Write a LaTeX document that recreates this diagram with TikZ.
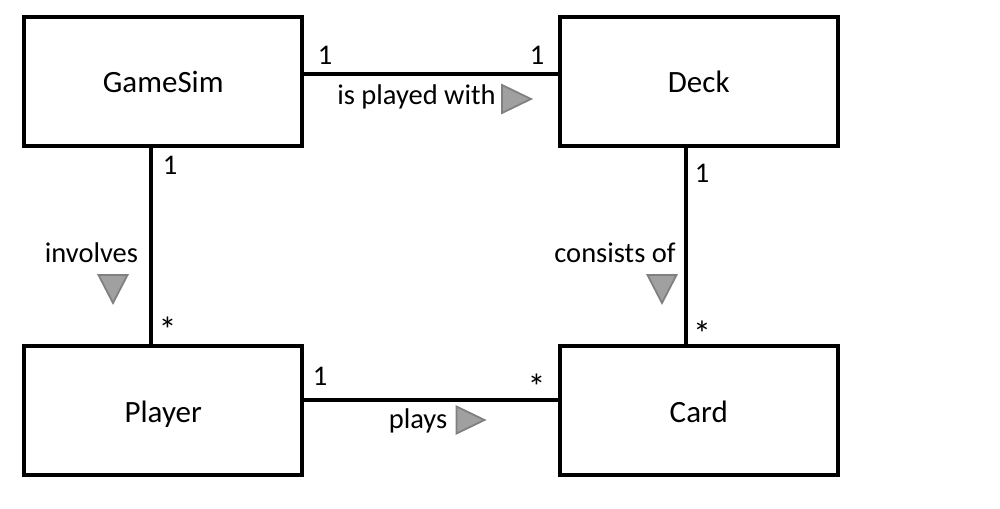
\documentclass[tikz,border=0pt]{standalone}
\usepackage{fontspec}
\setmainfont{Carlito}
\definecolor{trifill}{HTML}{A0A0A0}
\definecolor{tridraw}{HTML}{808080}
\tikzset{
  cls/.style={draw=black, line width=4bp, minimum width=278bp, minimum height=129bp,
    inner sep=0pt, outer sep=0pt, text height=23bp, text depth=0bp,
    font=\fontsize{31bp}{37bp}\selectfont},
  conn/.style={draw=black, line width=4bp},
  lbl/.style={anchor=base, inner sep=0pt, font=\fontsize{28.5bp}{34bp}\selectfont},
  star/.style={anchor=base, inner sep=0pt, font=\fontsize{36bp}{40bp}\selectfont},
  tri/.style={fill=trifill, draw=tridraw, line width=1.8bp, line join=miter}
}
\begin{document}
\begin{tikzpicture}[x=1bp,y=-1bp]
\useasboundingbox (0,0) rectangle (1000,509);
% classes
\node[cls] (gs) at (163.25,81.5) {GameSim};
\node[cls] (dk) at (698.75,81.5) {Deck};
\node[cls] (pl) at (163.25,410.5) {Player};
\node[cls] (cd) at (698.75,410.5) {Card};
% connectors
\draw[conn] ([yshift=7.5bp]gs.east) -- ([yshift=7.5bp]dk.west);
\draw[conn] ([xshift=-12.25bp]gs.south) -- ([xshift=-12.25bp]pl.north);
\draw[conn] ([xshift=-13.25bp]dk.south) -- ([xshift=-13.25bp]cd.north);
\draw[conn] ([yshift=10.5bp]pl.east) -- ([yshift=10.5bp]cd.west);
% labels
\node[lbl] (m1) at (325,65) {1};
\node[lbl] (m2) at (537,65) {1};
\node[lbl] (l1) at (416.5,105) {is played with};
\node[lbl] (m3) at (170,175) {1};
\node[star] (m4) at (167.5,343) {*};
\node[lbl] (l2) at (91.5,263) {involves};
\node[lbl] (m5) at (702,183) {1};
\node[star] (m6) at (702,346.5) {*};
\node[lbl] (l3) at (615,263) {consists of};
\node[lbl] (m7) at (320,386) {1};
\node[star] (m8) at (536.5,399) {*};
\node[lbl] (l4) at (418,428) {plays};
% direction triangles
\draw[tri] (502,85) -- (531,99) -- (502,113) -- cycle;
\draw[tri] (98.5,275) -- (127.5,275) -- (113,303) -- cycle;
\draw[tri] (647.5,275) -- (676.5,275) -- (662,303) -- cycle;
\draw[tri] (456.5,406.5) -- (484.5,420) -- (456.5,433.5) -- cycle;
\end{tikzpicture}
\end{document}
